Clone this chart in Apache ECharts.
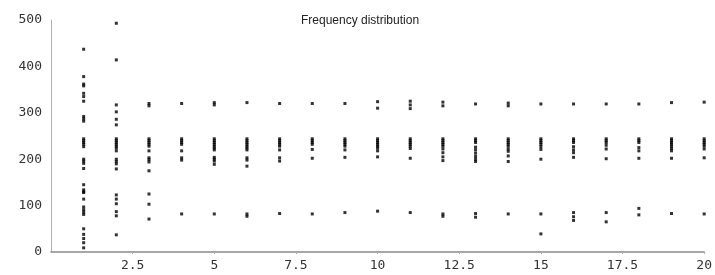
<!DOCTYPE html>
<html>
<head>
<meta charset="utf-8">
<script src="https://cdn.jsdelivr.net/npm/echarts@6/dist/echarts.min.js"></script>
<style>
  html, body { margin: 0; padding: 0; background: #fff; }
  #main { width: 715px; height: 275px; }
</style>
</head>
<body>
<div id="main"></div>
<script>
  // x tick labels
  var xTicks = ['2.5', '5', '7.5', '10', '12.5', '15', '17.5', '20'];
  var yTicks = ['0', '100', '200', '300', '400', '500'];

  // values read per column (x = 1..20)
  var col1 = [437, 378, 362, 358, 342, 335, 325, 292, 287, 282, 244, 240, 236, 232, 227, 200, 196, 191, 180, 145, 134, 130, 128, 114, 97, 91, 86, 81, 50, 38, 29, 20, 9];
  var col2 = [493, 414, 317, 302, 286, 274, 244, 240, 236, 232, 228, 224, 218, 200, 195, 190, 179, 123, 114, 104, 87, 78, 37];
  var col3 = [320, 315, 244, 240, 236, 232, 228, 218, 203, 199, 194, 175, 125, 103, 71];
  var col4 = [320, 244, 240, 236, 232, 218, 203, 198, 82];
  var col5 = [322, 317, 244, 240, 236, 232, 228, 224, 220, 204, 200, 196, 189, 82];
  var col6 = [322, 244, 240, 236, 232, 228, 224, 220, 203, 198, 185, 82, 77];
  var col7 = [320, 244, 240, 236, 232, 228, 220, 203, 196, 83];
  var col8 = [320, 244, 240, 236, 232, 221, 202, 82];
  var col9 = [320, 244, 240, 236, 232, 228, 220, 204, 85];
  var col10 = [324, 310, 244, 240, 236, 232, 228, 224, 218, 205, 88];
  var col11 = [325, 317, 309, 244, 240, 236, 232, 228, 223, 202, 85];
  var col12 = [323, 315, 244, 240, 236, 232, 228, 222, 214, 205, 197, 82, 77];
  var col13 = [319, 244, 240, 236, 226, 220, 213, 206, 200, 195, 83, 75];
  var col14 = [321, 315, 244, 240, 236, 232, 228, 222, 217, 207, 195, 82];
  var col15 = [319, 244, 240, 236, 232, 227, 221, 200, 82, 39];
  var col16 = [319, 244, 240, 236, 227, 220, 214, 204, 85, 76, 68];
  var col17 = [319, 244, 240, 236, 230, 222, 201, 85, 65];
  var col18 = [319, 244, 240, 236, 225, 218, 202, 94, 80];
  var col19 = [322, 244, 240, 236, 232, 228, 223, 218, 202, 83];
  var col20 = [323, 244, 240, 236, 232, 228, 222, 203, 82];

  var columns = [col1, col2, col3, col4, col5, col6, col7, col8, col9, col10,
    col11, col12, col13, col14, col15, col16, col17, col18, col19, col20];

  var points = [];
  columns.forEach(function (vals, i) {
    vals.forEach(function (v) {
      points.push([i + 1, v]);
    });
  });

  var myChart = echarts.init(document.getElementById('main'));
  var option = {
    animation: false,
    backgroundColor: '#fff',
    title: {
      text: 'Frequency distribution',
      left: 296,
      top: 10,
      textStyle: {
        fontFamily: 'Liberation Sans',
        fontSize: 12,
        fontWeight: 'normal',
        color: '#222'
      }
    },
    grid: { left: 51, right: 9, top: 20, bottom: 23 },
    xAxis: {
      type: 'value',
      min: 0,
      max: 20,
      interval: 2.5,
      splitLine: { show: false },
      axisLine: { show: true, lineStyle: { color: '#8a8a8a', width: 1.5 } },
      axisTick: { show: true, length: 2, lineStyle: { color: '#aaa' } },
      axisLabel: {
        showMinLabel: false,
        margin: 7,
        fontFamily: 'DejaVu Sans Mono',
        fontSize: 13,
        color: '#333',
        formatter: function (v) {
          var s = String(v);
          return xTicks.indexOf(s) >= 0 ? s : '';
        }
      }
    },
    yAxis: {
      type: 'value',
      min: 0,
      max: 500,
      interval: 100,
      splitLine: { show: false },
      axisLine: { show: true, lineStyle: { color: '#b0b0b0', width: 1 } },
      axisTick: { show: false },
      axisLabel: {
        margin: 9,
        fontFamily: 'DejaVu Sans Mono',
        fontSize: 13,
        color: '#333',
        formatter: function (v) {
          var s = String(v);
          return yTicks.indexOf(s) >= 0 ? s : '';
        }
      }
    },
    series: [{
      type: 'scatter',
      symbol: 'rect',
      symbolSize: [3, 3],
      itemStyle: { color: '#000' },
      data: points
    }]
  };
  myChart.setOption(option);
</script>
</body>
</html>
